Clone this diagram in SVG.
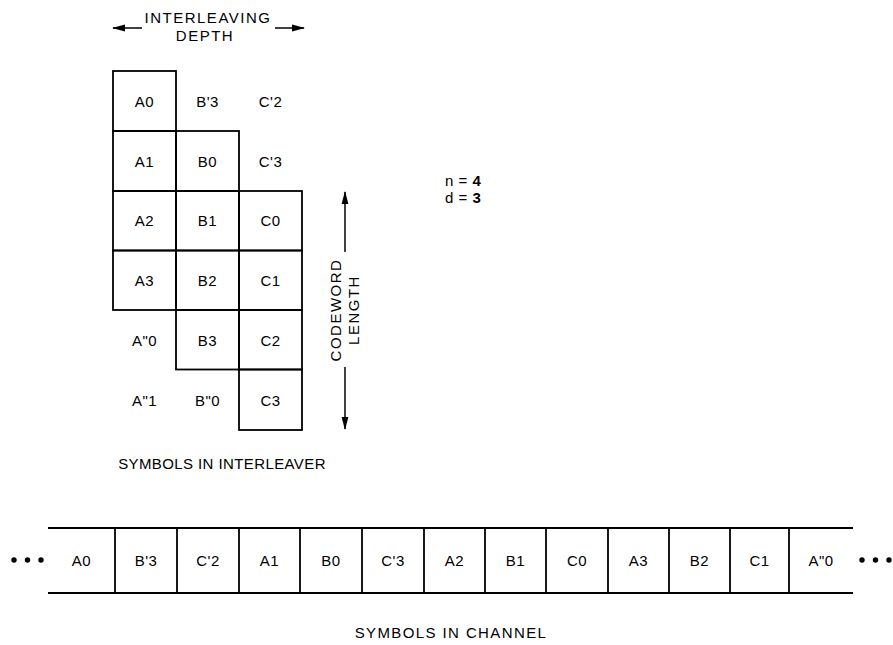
<svg xmlns="http://www.w3.org/2000/svg" width="893" height="645" viewBox="0 0 893 645">
<style>
  text { font-family: "Liberation Sans", Arial, sans-serif; font-size: 15px; fill: #000; letter-spacing: 0.5px; }
  .lbl { text-anchor: middle; }
  .hd { text-anchor: middle; letter-spacing: 1.5px; }
  .cell { fill: none; stroke: #000; stroke-width: 1.8; }
  .ln { fill: none; stroke: #000; stroke-width: 1.8; }
  .arr { fill: none; stroke: #000; stroke-width: 1.5; }
  .dot { fill: #000; }
</style>
<defs>
  <marker id="ah" viewBox="0 0 13 8" refX="12" refY="4" markerWidth="13" markerHeight="8" markerUnits="userSpaceOnUse" orient="auto">
    <path d="M0,0.6 L13,4 L0,7.4 Z" fill="#000"/>
  </marker>
</defs>

<!-- Interleaver grid -->
<g id="interleaver">
  <g id="cell-A0"><rect class="cell" x="113" y="71" width="63" height="60"/><text class="lbl" x="144.5" y="107">A0</text></g>
  <g id="cell-A1"><rect class="cell" x="113" y="131" width="63" height="60"/><text class="lbl" x="144.5" y="167">A1</text></g>
  <g id="cell-A2"><rect class="cell" x="113" y="191" width="63" height="59.5"/><text class="lbl" x="144.5" y="226">A2</text></g>
  <g id="cell-A3"><rect class="cell" x="113" y="250.5" width="63" height="59.5"/><text class="lbl" x="144.5" y="286">A3</text></g>
  <g id="cell-A2p0"><text class="lbl" x="144.5" y="346">A"0</text></g>
  <g id="cell-A2p1"><text class="lbl" x="144.5" y="406">A"1</text></g>

  <g id="cell-Bp3"><text class="lbl" x="207.5" y="107">B'3</text></g>
  <g id="cell-B0"><rect class="cell" x="176" y="131" width="63" height="60"/><text class="lbl" x="207.5" y="167">B0</text></g>
  <g id="cell-B1"><rect class="cell" x="176" y="191" width="63" height="59.5"/><text class="lbl" x="207.5" y="226">B1</text></g>
  <g id="cell-B2"><rect class="cell" x="176" y="250.5" width="63" height="59.5"/><text class="lbl" x="207.5" y="286">B2</text></g>
  <g id="cell-B3"><rect class="cell" x="176" y="310" width="63" height="59.5"/><text class="lbl" x="207.5" y="346">B3</text></g>
  <g id="cell-B2p0"><text class="lbl" x="207.5" y="406">B"0</text></g>

  <g id="cell-Cp2"><text class="lbl" x="270.5" y="107">C'2</text></g>
  <g id="cell-Cp3"><text class="lbl" x="270.5" y="167">C'3</text></g>
  <g id="cell-C0"><rect class="cell" x="239" y="191" width="63" height="59.5"/><text class="lbl" x="270.5" y="226">C0</text></g>
  <g id="cell-C1"><rect class="cell" x="239" y="250.5" width="63" height="59.5"/><text class="lbl" x="270.5" y="286">C1</text></g>
  <g id="cell-C2"><rect class="cell" x="239" y="310" width="63" height="59.5"/><text class="lbl" x="270.5" y="346">C2</text></g>
  <g id="cell-C3"><rect class="cell" x="239" y="369.5" width="63" height="60.5"/><text class="lbl" x="270.5" y="406">C3</text></g>
</g>

<!-- Dimension arrows -->
<g id="connectors">
  <line class="arr" x1="142" y1="28" x2="113" y2="28" marker-end="url(#ah)"/>
  <line class="arr" x1="275" y1="28" x2="304" y2="28" marker-end="url(#ah)"/>
  <line class="arr" x1="345" y1="252" x2="345" y2="192" marker-end="url(#ah)"/>
  <line class="arr" x1="345" y1="367" x2="345" y2="429" marker-end="url(#ah)"/>
</g>

<g id="label-depth">
  <text class="hd" x="208" y="23">INTERLEAVING</text>
  <text class="hd" x="205" y="41">DEPTH</text>
</g>
<g id="label-codeword">
  <text class="hd" transform="translate(341,310) rotate(-90)">CODEWORD</text>
  <text class="hd" transform="translate(359,310) rotate(-90)">LENGTH</text>
</g>
<g id="label-params">
  <text x="445" y="186">n = <tspan font-weight="bold">4</tspan></text>
  <text x="445" y="203">d = <tspan font-weight="bold">3</tspan></text>
</g>
<g id="caption-interleaver">
  <text class="lbl" x="222" y="469" style="letter-spacing:0.4px">SYMBOLS IN INTERLEAVER</text>
</g>

<!-- Channel row -->
<g id="channel">
  <line class="ln" x1="48" y1="528" x2="853" y2="528"/>
  <line class="ln" x1="48" y1="593" x2="853" y2="593"/>
  <g id="ch-sep">
    <line class="ln" x1="115" y1="528" x2="115" y2="593"/>
    <line class="ln" x1="177" y1="528" x2="177" y2="593"/>
    <line class="ln" x1="239" y1="528" x2="239" y2="593"/>
    <line class="ln" x1="300" y1="528" x2="300" y2="593"/>
    <line class="ln" x1="362" y1="528" x2="362" y2="593"/>
    <line class="ln" x1="424" y1="528" x2="424" y2="593"/>
    <line class="ln" x1="485" y1="528" x2="485" y2="593"/>
    <line class="ln" x1="546" y1="528" x2="546" y2="593"/>
    <line class="ln" x1="608" y1="528" x2="608" y2="593"/>
    <line class="ln" x1="669" y1="528" x2="669" y2="593"/>
    <line class="ln" x1="730" y1="528" x2="730" y2="593"/>
    <line class="ln" x1="789" y1="528" x2="789" y2="593"/>
  </g>
  <g id="ch-A0"><text class="lbl" x="81.5" y="566">A0</text></g>
  <g id="ch-Bp3"><text class="lbl" x="146" y="566">B'3</text></g>
  <g id="ch-Cp2"><text class="lbl" x="208" y="566">C'2</text></g>
  <g id="ch-A1"><text class="lbl" x="269.5" y="566">A1</text></g>
  <g id="ch-B0"><text class="lbl" x="331" y="566">B0</text></g>
  <g id="ch-Cp3"><text class="lbl" x="393" y="566">C'3</text></g>
  <g id="ch-A2"><text class="lbl" x="454.5" y="566">A2</text></g>
  <g id="ch-B1"><text class="lbl" x="515.5" y="566">B1</text></g>
  <g id="ch-C0"><text class="lbl" x="577" y="566">C0</text></g>
  <g id="ch-A3"><text class="lbl" x="638.5" y="566">A3</text></g>
  <g id="ch-B2"><text class="lbl" x="699.5" y="566">B2</text></g>
  <g id="ch-C1"><text class="lbl" x="759.5" y="566">C1</text></g>
  <g id="ch-A2p0"><text class="lbl" x="821" y="566">A"0</text></g>
  <g id="dots-left">
    <circle class="dot" cx="14" cy="560" r="2.7"/>
    <circle class="dot" cx="27.5" cy="560" r="2.7"/>
    <circle class="dot" cx="41" cy="560" r="2.7"/>
  </g>
  <g id="dots-right">
    <circle class="dot" cx="862" cy="560" r="2.7"/>
    <circle class="dot" cx="875.5" cy="560" r="2.7"/>
    <circle class="dot" cx="889" cy="560" r="2.7"/>
  </g>
</g>
<g id="caption-channel">
  <text class="lbl" x="451" y="638" style="letter-spacing:1.4px">SYMBOLS IN CHANNEL</text>
</g>
</svg>
